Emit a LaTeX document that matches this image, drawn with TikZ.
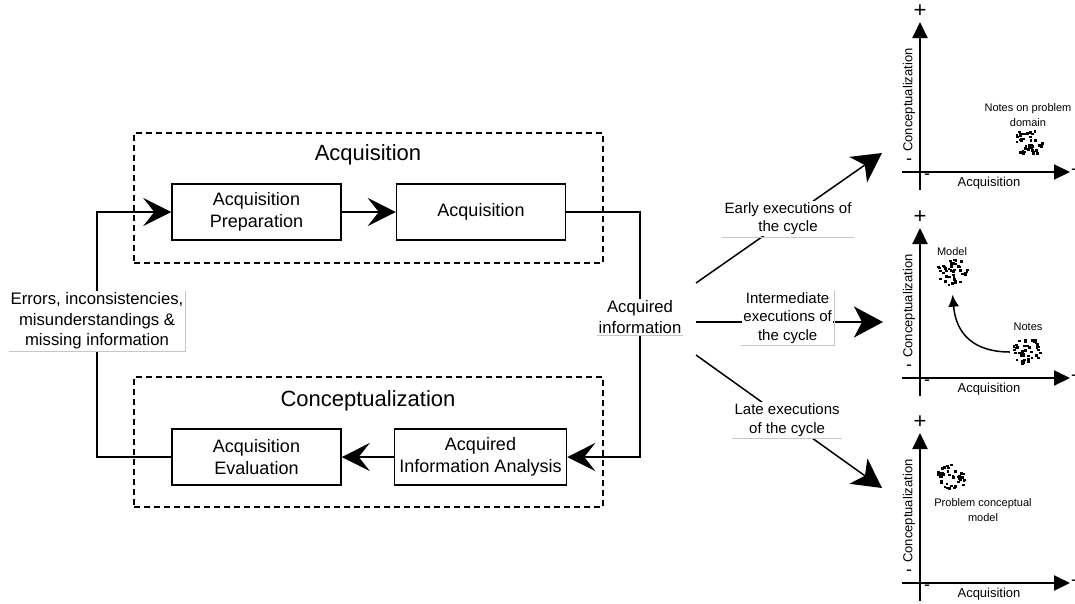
\documentclass[tikz,border=0pt]{standalone}
\usepackage{fontspec}
\setmainfont{Liberation Sans}
\usetikzlibrary{arrows.meta,calc,shapes.geometric}

% one small chart: axes, signs and axis captions; #1 = y of the horizontal axis, #2 = name prefix
\newcommand\chartframe[2]{%
\begin{scope}[shift={(0,#1)}]
  \coordinate (#2ybot) at (920,18);
  \coordinate (#2ytop) at (920,-150);
  \coordinate (#2xl) at (902,0);
  \coordinate (#2xr) at (1070,0);
  \draw[axis] (#2ybot) -- (#2ytop);
  \draw[axis] (#2xl) -- (#2xr);
  \node[plussign] (#2plus) at (920,-161) {+};
  \node[minsign] (#2ymin) at (909,-10) {-};
  \node[minsign] (#2xmin) at (927,5) {-};
  \node[minsign] (#2xend) at (1074,0) {-};
  \node[axlbl,rotate=90] (#2ylab) at (909,-72) {Conceptualization};
  \node[axlbl] (#2xlab) at (989,11) {Acquisition};
\end{scope}}

\begin{document}
\begin{tikzpicture}[x=1pt,y=-1pt,
  proc/.style={draw,line width=1.5pt,minimum width=169pt,minimum height=56pt,
    align=center,inner sep=0pt,font=\fontsize{18}{22}\selectfont},
  group/.style={draw,line width=1.3pt,dash pattern=on 6pt off 4pt,
    minimum width=469pt,minimum height=130pt,inner sep=0pt},
  grouptitle/.style={font=\fontsize{22}{26}\selectfont},
  flow/.style={line width=1.5pt},
  bigtip/.style={-{Stealth[length=28pt,width=28pt,inset=11pt]}},
  sidetip/.style={-{Stealth[length=29pt,width=31pt,inset=8pt]}},
  lbl/.style={fill=white,align=center,inner sep=1.5pt,font=\fontsize{16.7}{20.5}\selectfont},
  rlbl/.style={fill=white,align=center,inner sep=1.5pt,font=\fontsize{15}{18.5}\selectfont},
  lblrule/.style={draw=black!22,line width=0.8pt},
  axis/.style={line width=2pt,-{Triangle[length=16pt,width=15pt]}},
  plussign/.style={inner sep=0pt,font=\fontsize{22}{22}\selectfont},
  minsign/.style={inner sep=0pt,font=\fontsize{18}{18}\selectfont},
  axlbl/.style={inner sep=0pt,font=\fontsize{13}{15}\selectfont},
  note/.style={inner sep=0pt,align=center,font=\fontsize{11}{14.5}\selectfont},
  blob/.style={ellipse,minimum width=36pt,minimum height=31pt,inner sep=0pt,
    path picture={\foreach \k in {1,...,44}{
      \pgfmathsetmacro\ang{360*rnd}\pgfmathsetmacro\rad{sqrt(rnd)}
      \fill ($(path picture bounding box.center)+({16*\rad*cos(\ang)-1.4},{13.5*\rad*sin(\ang)-1.2})$)
        rectangle ++(2.8,2.4);}}},
]
\useasboundingbox (0,0) rectangle (1075,603);
\pgfmathsetseed{11}

% dashed phase groups
\node[group] (gacq) at (368.5,198) {};
\node[group] (gcon) at (368.5,442) {};
\node[grouptitle] (tacq) at (368,155) {Acquisition};
\node[grouptitle] (tcon) at (368,401) {Conceptualization};

% process steps
\node[proc] (ap) at (256.5,212) {Acquisition\\Preparation};
\node[proc] (acq) at (481,212) {Acquisition};
\node[proc,minimum width=172pt] (aia) at (480.5,457) {Acquired\\Information Analysis};
\node[proc] (ae) at (256.5,457) {Acquisition\\Evaluation};

% cycle connectors
\draw[flow,bigtip] (ap.east) -- (acq.west);
\draw[flow,bigtip] (aia.west) -- (ae.east);

\coordinate (ai) at (640,317);
\draw[flow,bigtip] (acq.east) -| (ai) |- (aia.east);
\node[lbl] (ailbl) at (ai) {Acquired\\information};
\draw[lblrule] (ailbl.south west) -- (ailbl.south east);

\coordinate (fb) at (97,321);
\draw[flow,bigtip] (ae.west) -| (fb) |- (ap.west);
\node[lbl] (err) at (fb) {Errors, inconsistencies,\\misunderstandings \&\\missing information};
\draw[lblrule] (err.south west) -- (err.south east) -- (err.north east);

% outcome arrows towards the charts
\coordinate (s1) at (696,283);
\coordinate (t1) at (882,153);
\coordinate (s2) at (696,322);
\coordinate (t2) at (883,322);
\coordinate (s3) at (696,355);
\coordinate (t3) at (882,488);
\draw[flow,sidetip] (s1) -- (t1) node[rlbl,pos=0.495] (l1) {Early executions of\\the cycle};
\draw[lblrule] (l1.south west) -- (l1.south east);
\draw[flow,sidetip] (s2) -- (t2) node[rlbl,pos=0.49,yshift=4pt] (l2) {Intermediate\\executions of\\the cycle};
\draw[lblrule] (l2.south west) -- (l2.south east) -- (l2.north east);
\draw[flow,sidetip] (s3) -- (t3) node[rlbl,pos=0.49] (l3) {Late executions\\of the cycle};
\draw[lblrule] (l3.south west) -- (l3.south east);

% chart 1: early
\chartframe{172}{ca}
\node[note] (canote) at (1028,115) {Notes on problem\\domain};
\node[blob] (cablob) at (1028,143) {};

% chart 2: intermediate
\chartframe{378}{cb}
\node[note] (cbmodel) at (952,252) {Model};
\node[blob] (cbmb) at (952,272) {};
\node[note] (cbnotes) at (1028,327) {Notes};
\node[blob] (cbnb) at (1028,352) {};
\draw[line width=1.5pt,-{Latex[length=12pt,width=11pt]},shorten >=7pt]
  (cbnb.west) .. controls (975,352) and (956,335) .. (cbmb.south);

% chart 3: late
\chartframe{583}{cc}
\node[blob] (ccblob) at (952,477) {};
\node[note] (ccnote) at (983,510) {Problem conceptual\\model};
\end{tikzpicture}
\end{document}
